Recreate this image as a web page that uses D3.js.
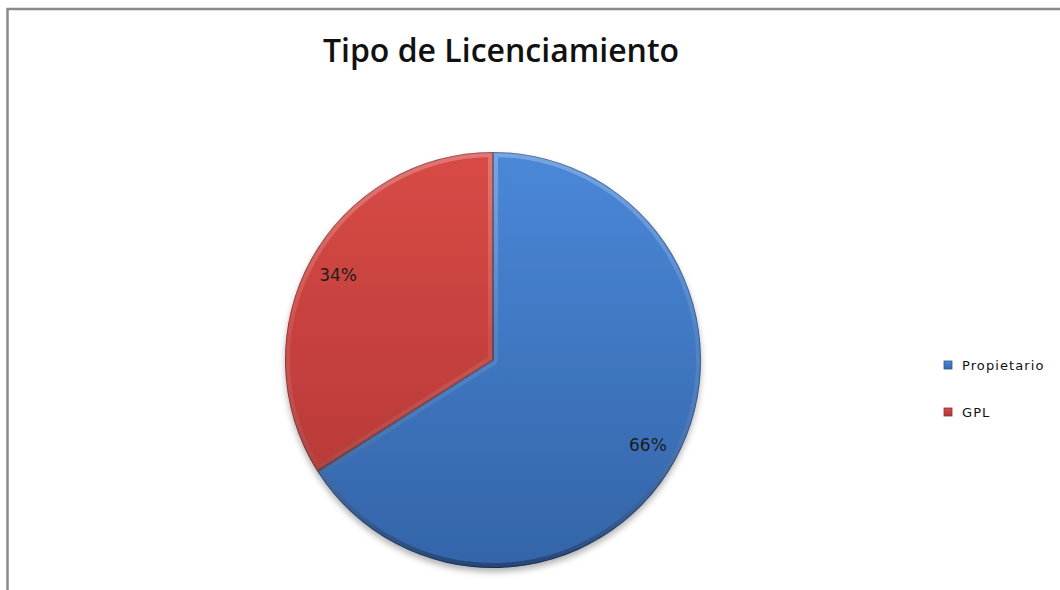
<!DOCTYPE html>
<html><head><meta charset="utf-8">
<script src="https://cdn.jsdelivr.net/npm/d3@7"></script>
<style>body{margin:0;background:#fff}svg{display:block}</style>
</head><body>
<svg id="c" width="1060" height="590"></svg>
<script>
const categories = ["Propietario", "GPL"];
const values = [66, 34];
const labels = ["66%", "34%"];
const title = "Tipo de Licenciamiento";

const svg = d3.select("#c");
const cx = 493, cy = 360, R = 208;

// frame
svg.append("rect").attr("x", 7.5).attr("y", 9).attr("width", 1100).attr("height", 700)
  .attr("fill", "#fff").attr("stroke", "#8a8a8a").attr("stroke-width", 2.5);

const defs = svg.append("defs");
const colors = d3.scaleOrdinal().domain(categories).range(["#3c72bb", "#c4403d"]);
const lights = {"Propietario": ["#4a88d8", "#3464a8"], "GPL": ["#d84a46", "#b03634"]};

categories.forEach((c, i) => {
  const g = defs.append("linearGradient").attr("id", "g" + i)
    .attr("gradientUnits", "userSpaceOnUse")
    .attr("x1", 0).attr("y1", -R).attr("x2", 0).attr("y2", R);
  g.append("stop").attr("offset", "0%").attr("stop-color", lights[c][0]);
  g.append("stop").attr("offset", "100%").attr("stop-color", lights[c][1]);
  const gl = defs.append("linearGradient").attr("id", "gl" + i)
    .attr("x1", 0).attr("y1", 0).attr("x2", 0).attr("y2", 1);
  gl.append("stop").attr("offset", "0%").attr("stop-color", lights[c][0]);
  gl.append("stop").attr("offset", "100%").attr("stop-color", lights[c][1]);
});
const rim = defs.append("linearGradient").attr("id", "rim")
  .attr("gradientUnits", "userSpaceOnUse")
  .attr("x1", 0).attr("y1", -R).attr("x2", 0).attr("y2", R);
rim.append("stop").attr("offset", "0%").attr("stop-color", "#fff").attr("stop-opacity", 0.25);
rim.append("stop").attr("offset", "45%").attr("stop-color", "#fff").attr("stop-opacity", 0.08);
rim.append("stop").attr("offset", "100%").attr("stop-color", "#000").attr("stop-opacity", 0.3);

const f = defs.append("filter").attr("id", "shadow").attr("x", "-20%").attr("y", "-20%").attr("width", "140%").attr("height", "140%");
f.append("feDropShadow").attr("dx", 0).attr("dy", 4).attr("stdDeviation", 3)
  .attr("flood-color", "#000").attr("flood-opacity", 0.3);

const pie = d3.pie().sort(null).value(d => d.v);
const data = pie(categories.map((c, i) => ({c, v: values[i], l: labels[i]})));
const arc = d3.arc().innerRadius(0).outerRadius(R);
const labelArc = d3.arc().innerRadius(R * 0.85).outerRadius(R * 0.85);

const pg = svg.append("g").attr("transform", `translate(${cx},${cy})`);
const shadowG = pg.append("g").attr("filter", "url(#shadow)");
shadowG.selectAll("path.base").data(data).join("path").attr("class", "base")
  .attr("d", arc).attr("fill", (d, i) => `url(#g${i})`);

data.forEach((d, i) => {
  defs.append("clipPath").attr("id", "cp" + i).append("path").attr("d", arc(d));
});
// rims (bevel)
const rg = pg.append("g");
data.forEach((d, i) => {
  rg.append("g").attr("clip-path", `url(#cp${i})`)
    .append("path").attr("d", arc(d)).attr("fill", "none")
    .attr("stroke", "url(#rim)").attr("stroke-width", 10).attr("stroke-linejoin", "round");
  rg.append("g").attr("clip-path", `url(#cp${i})`)
    .append("path").attr("d", arc(d)).attr("fill", "none")
    .attr("stroke", "#000").attr("stroke-opacity", 0.3).attr("stroke-width", 2);
});

// labels
pg.append("g").selectAll("text").data(data).join("text")
  .attr("transform", d => `translate(${labelArc.centroid(d)})`)
  .attr("text-anchor", "middle").attr("dy", "0.36em")
  .attr("font-family", "DejaVu Sans").attr("font-size", 17).attr("fill", "#1c1c1c")
  .text(d => d.data.l);

// title
svg.append("text").attr("x", 501).attr("y", 62).attr("text-anchor", "middle")
  .attr("font-family", "Open Sans").attr("font-weight", 600).attr("font-size", 32).attr("fill", "#111")
  .text(title);

// legend
const lg = svg.append("g").attr("transform", "translate(944,361)");
const item = lg.selectAll("g").data(categories).join("g")
  .attr("transform", (d, i) => `translate(0,${i * 47})`);
item.append("rect").attr("width", 8).attr("height", 8)
  .attr("fill", (d, i) => `url(#gl${i})`).attr("stroke", d => d3.color(colors(d)).darker(0.8)).attr("stroke-width", 0.8);
item.append("text").attr("x", 18).attr("y", 8.5)
  .attr("font-family", "DejaVu Sans").attr("font-size", 13).attr("letter-spacing", 1.1).attr("fill", "#111")
  .text(d => d);
</script>
</body></html>
